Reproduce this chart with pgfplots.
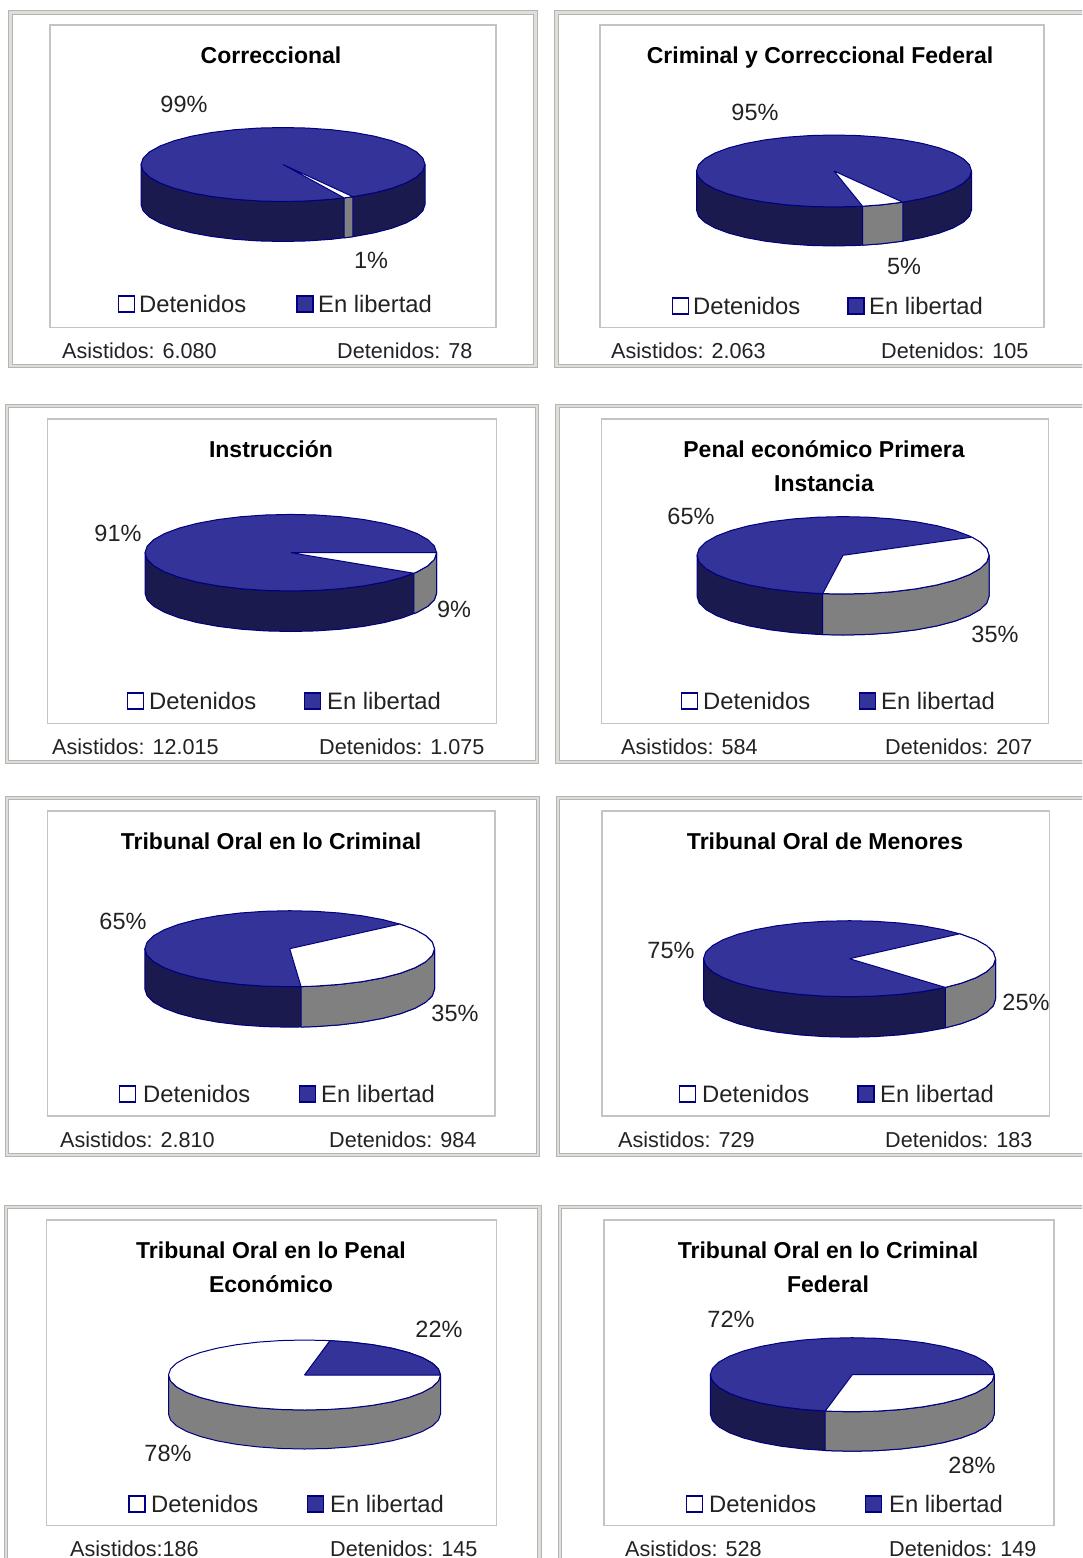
\documentclass[border=0pt]{standalone}
\usepackage{fontspec}
\setmainfont{Liberation Sans}
\usepackage{pgfplots}
\usepackage{pgfplotstable}
\pgfplotsset{compat=1.18}

\definecolor{pietop}{HTML}{333399}
\definecolor{pieside}{HTML}{1A1A4F}
\definecolor{pieline}{HTML}{000080}
\definecolor{piegray}{HTML}{808080}
\definecolor{frameband}{HTML}{DEDEDA}
\definecolor{frameedge}{HTML}{B4B4B0}
\definecolor{innerline}{HTML}{C4C4C4}
\definecolor{labeltext}{HTML}{222222}

\tikzset{txt/.style={inner sep=0pt,text=labeltext,yshift=-8.2pt},
  outerframe/.style={draw=frameedge,double=frameband,double distance=2.5pt,line width=1pt,line cap=rect},
  innerframe/.style={draw=innerline,line width=1.2pt,line cap=rect}}

% whole top rim, angles in degrees: r a
\pgfplotstableread[row sep=\\]{
r a\\ 1 0\\ 1 10\\ 1 20\\ 1 30\\ 1 40\\ 1 50\\ 1 60\\ 1 70\\ 1 80\\ 1 90\\ 1 100\\ 1 110\\ 1 120\\
1 130\\ 1 140\\ 1 150\\ 1 160\\ 1 170\\ 1 180\\ 1 190\\ 1 200\\ 1 210\\ 1 220\\ 1 230\\ 1 240\\
1 250\\ 1 260\\ 1 270\\ 1 280\\ 1 290\\ 1 300\\ 1 310\\ 1 320\\ 1 330\\ 1 340\\ 1 350\\ 1 360\\
}\rimtable

% front wall, z=1 is the lower edge
\pgfplotstableread[row sep=\\]{
a z\\ 0 1\\ 10 1\\ 20 1\\ 30 1\\ 40 1\\ 50 1\\ 60 1\\ 70 1\\ 80 1\\ 90 1\\ 100 1\\ 110 1\\ 120 1\\
130 1\\ 140 1\\ 150 1\\ 160 1\\ 170 1\\ 180 1\\
180 0\\ 170 0\\ 160 0\\ 150 0\\ 140 0\\ 130 0\\ 120 0\\ 110 0\\ 100 0\\ 90 0\\ 80 0\\ 70 0\\ 60 0\\
50 0\\ 40 0\\ 30 0\\ 20 0\\ 10 0\\ 0 0\\ 0 1\\
}\walltable

% pie: cx cy rx ry depth
\newcommand\setpie[5]{\def\cx{#1}\def\cy{#2}\def\rx{#3}\def\ry{#4}\def\dz{#5}}
\newcommand\sector[2]{\addplot[draw=pieline,line width=1pt,line join=round,fill=#1]
  table[row sep=\\,x expr=\cx+\rx*\thisrow{r}*cos(\thisrow{a}),y expr=\cy+\ry*\thisrow{r}*sin(\thisrow{a})] {#2};}
\newcommand\wall[2]{\addplot[draw=pieline,line width=1pt,line join=round,fill=#1]
  table[row sep=\\,x expr=\cx+\rx*cos(\thisrow{a}),y expr=\cy+\ry*sin(\thisrow{a})+\dz*\thisrow{z}] {#2};}

\newcommand\legfont{\fontsize{23.8}{28}\selectfont}
\newcommand\titfont{\fontsize{23}{28}\selectfont\bfseries}
\newcommand\pctfont{\fontsize{23.5}{28}\selectfont}
\newcommand\botfont{\fontsize{21.6}{26}\selectfont}
\newcommand\legendrow[5]{%
  \addplot[only marks,mark=square*,mark size=8pt,mark options={draw=pieline,fill=white,line width=1.2pt}] coordinates {(#1,#5)};
  \addplot[only marks,mark=square*,mark size=8pt,mark options={draw=pieline,fill=pietop,line width=1.2pt}] coordinates {(#2,#5)};
  \node[txt,anchor=base west,font=\legfont] at (axis cs:#3,#5) {Detenidos};
  \node[txt,anchor=base west,font=\legfont] at (axis cs:#4,#5) {En libertad};}
\newcommand\ttl[3]{\node[txt,anchor=base,font=\titfont,text=black] at (axis cs:#1,#2) {#3};}
\newcommand\pct[3]{\node[txt,anchor=base,font=\pctfont] at (axis cs:#1,#2) {#3\%};}
\newcommand\foot[5]{%
  \node[txt,anchor=base west,font=\botfont] at (axis cs:#1,#3) {Asistidos:#4};
  \node[txt,anchor=base west,font=\botfont] at (axis cs:#2,#3) {Detenidos: #5};}

\begin{document}
\begin{tikzpicture}
\path[use as bounding box] (0,0) rectangle (1082pt,1558pt);
\begin{axis}[
    at={(0,0)},anchor=south west,
    scale only axis,
    width=1082pt,height=1558pt,
    xmin=0,xmax=1082,ymin=0,ymax=1558,
    y dir=reverse,
    hide axis,
]
% frames
\addplot[outerframe] coordinates {(10.5,12.5) (535.5,12.5) (535.5,366) (10.5,366) (10.5,12.5)};
\addplot[innerframe] coordinates {(50,25) (496,25) (496,327.5) (50,327.5) (50,25)};
\addplot[outerframe] coordinates {(556.5,12.5) (1095,12.5) (1095,366) (556.5,366) (556.5,12.5)};
\addplot[innerframe] coordinates {(600,25) (1044,25) (1044,327.5) (600,327.5) (600,25)};
\addplot[outerframe] coordinates {(7,406) (537,406) (537,762) (7,762) (7,406)};
\addplot[innerframe] coordinates {(47.5,419) (496.5,419) (496.5,723.5) (47.5,723.5) (47.5,419)};
\addplot[outerframe] coordinates {(557.5,406) (1095,406) (1095,762) (557.5,762) (557.5,406)};
\addplot[innerframe] coordinates {(601.5,419) (1048.5,419) (1048.5,723.5) (601.5,723.5) (601.5,419)};
\addplot[outerframe] coordinates {(7,798) (538,798) (538,1155) (7,1155) (7,798)};
\addplot[innerframe] coordinates {(47.5,811) (495,811) (495,1116) (47.5,1116) (47.5,811)};
\addplot[outerframe] coordinates {(558,798) (1095,798) (1095,1155) (558,1155) (558,798)};
\addplot[innerframe] coordinates {(602,811) (1049.5,811) (1049.5,1116) (602,1116) (602,811)};
\addplot[outerframe] coordinates {(6,1207) (539.5,1207) (539.5,1575) (6,1575) (6,1207)};
\addplot[innerframe] coordinates {(46.5,1220) (496.5,1220) (496.5,1525.5) (46.5,1525.5) (46.5,1220)};
\addplot[outerframe] coordinates {(560,1207) (1095,1207) (1095,1575) (560,1575) (560,1207)};
\addplot[innerframe] coordinates {(604,1220) (1054,1220) (1054,1525.5) (604,1525.5) (604,1220)};

% Correccional 99 / 1
\setpie{283}{164.5}{142}{37}{40}
\wall{pieside}{\walltable}
\wall{piegray}{a z\\ 60.5 1\\ 64.5 1\\ 64.5 0\\ 60.5 0\\ 60.5 1\\}
\sector{pietop}{\rimtable}
\sector{white}{r a\\ 0 0\\ 1 60.5\\ 1 64.5\\ 0 0\\}
\ttl{271}{55}{Correccional}
\pct{184}{104}{99} \pct{371}{260}{1}
\legendrow{126.5}{305}{139}{318}{304}
\foot{62}{337}{350}{ 6.080}{78}

% Criminal y Correccional Federal 95 / 5
\setpie{834}{171}{137.5}{36}{39}
\wall{pieside}{\walltable}
\wall{piegray}{a z\\ 60 1\\ 70 1\\ 78 1\\ 78 0\\ 70 0\\ 60 0\\ 60 1\\}
\sector{pietop}{\rimtable}
\sector{white}{r a\\ 0 0\\ 1 60\\ 1 70\\ 1 78\\ 0 0\\}
\ttl{820}{55}{Criminal y Correccional Federal}
\pct{755}{112}{95} \pct{904}{266}{5}
\legendrow{680.5}{856}{693}{869}{306}
\foot{611}{881}{350}{ 2.063}{105}

% Instruccion 91 / 9
\setpie{290.8}{552.7}{145.8}{38.3}{40.5}
\wall{pieside}{\walltable}
\wall{piegray}{a z\\ 0 1\\ 10 1\\ 20 1\\ 30 1\\ 32.4 1\\ 32.4 0\\ 30 0\\ 20 0\\ 10 0\\ 0 0\\ 0 1\\}
\sector{pietop}{\rimtable}
\sector{white}{r a\\ 0 0\\ 1 0\\ 1 10\\ 1 20\\ 1 30\\ 1 32.4\\ 0 0\\}
\ttl{271}{449}{Instrucción}
\pct{118}{533}{91} \pct{454}{609}{9}
\legendrow{135.5}{312.5}{149}{327}{701}
\foot{52}{319}{746}{ 12.015}{1.075}

% Penal economico Primera Instancia 65 / 35
\setpie{843}{555.3}{146}{38.7}{41}
\wall{pieside}{\walltable}
\wall{piegray}{a z\\ 0 1\\ 10 1\\ 20 1\\ 30 1\\ 40 1\\ 50 1\\ 60 1\\ 70 1\\ 80 1\\ 90 1\\ 98 1\\ 98 0\\ 90 0\\ 80 0\\ 70 0\\ 60 0\\ 50 0\\ 40 0\\ 30 0\\ 20 0\\ 10 0\\ 0 0\\ 0 1\\}
\sector{pietop}{\rimtable}
\sector{white}{r a\\ 0 0\\ 1 -28\\ 1 -20\\ 1 -10\\ 1 0\\ 1 10\\ 1 20\\ 1 30\\ 1 40\\ 1 50\\ 1 60\\ 1 70\\ 1 80\\ 1 90\\ 1 98\\ 0 0\\}
\ttl{824}{449}{Penal económico Primera}
\ttl{824}{483}{Instancia}
\pct{691}{516}{65} \pct{995}{634}{35}
\legendrow{689.5}{867.5}{703}{881}{701}
\foot{621}{885}{746}{ 584}{207}

% Tribunal Oral en lo Criminal 65 / 35
\setpie{289.7}{948.7}{144.8}{38}{40.5}
\wall{pieside}{\walltable}
\wall{piegray}{a z\\ 0 1\\ 10 1\\ 20 1\\ 30 1\\ 40 1\\ 50 1\\ 60 1\\ 70 1\\ 80 1\\ 85.5 1\\ 85.5 0\\ 80 0\\ 70 0\\ 60 0\\ 50 0\\ 40 0\\ 30 0\\ 20 0\\ 10 0\\ 0 0\\ 0 1\\}
\sector{pietop}{\rimtable}
\sector{white}{r a\\ 0 0\\ 1 -40.5\\ 1 -30\\ 1 -20\\ 1 -10\\ 1 0\\ 1 10\\ 1 20\\ 1 30\\ 1 40\\ 1 50\\ 1 60\\ 1 70\\ 1 80\\ 1 85.5\\ 0 0\\}
\ttl{271}{841}{Tribunal Oral en lo Criminal}
\pct{123}{921}{65} \pct{455}{1013}{35}
\legendrow{127.5}{307.5}{143}{321}{1094}
\foot{60}{329}{1139}{ 2.810}{984}

% Tribunal Oral de Menores 75 / 25
\setpie{849.5}{958.7}{146}{38}{40.5}
\wall{pieside}{\walltable}
\wall{piegray}{a z\\ 0 1\\ 10 1\\ 20 1\\ 30 1\\ 40 1\\ 49 1\\ 49 0\\ 40 0\\ 30 0\\ 20 0\\ 10 0\\ 0 0\\ 0 1\\}
\sector{pietop}{\rimtable}
\sector{white}{r a\\ 0 0\\ 1 -41\\ 1 -30\\ 1 -20\\ 1 -10\\ 1 0\\ 1 10\\ 1 20\\ 1 30\\ 1 40\\ 1 49\\ 0 0\\}
\ttl{825}{841}{Tribunal Oral de Menores}
\pct{671}{950}{75} \pct{1026}{1002}{25}
\legendrow{687.5}{866}{702}{880}{1094}
\foot{618}{885}{1139}{ 729}{183}

% Tribunal Oral en lo Penal Economico 78 / 22
\setpie{304.5}{1375}{136}{35}{39}
\wall{piegray}{\walltable}
\sector{white}{\rimtable}
\sector{pietop}{r a\\ 0 0\\ 1 -79.2\\ 1 -70\\ 1 -60\\ 1 -50\\ 1 -40\\ 1 -30\\ 1 -20\\ 1 -10\\ 1 0\\ 0 0\\}
\ttl{271}{1250}{Tribunal Oral en lo Penal}
\ttl{271}{1284}{Económico}
\pct{439}{1329}{22} \pct{168}{1453}{78}
\legendrow{137}{315.5}{151}{330}{1504}
\foot{70}{330}{1548}{186}{145}

% Tribunal Oral en lo Criminal Federal 72 / 28
\setpie{852.3}{1374.7}{142}{37}{39.5}
\wall{pieside}{\walltable}
\wall{piegray}{a z\\ 0 1\\ 10 1\\ 20 1\\ 30 1\\ 40 1\\ 50 1\\ 60 1\\ 70 1\\ 80 1\\ 90 1\\ 100 1\\ 101 1\\ 101 0\\ 100 0\\ 90 0\\ 80 0\\ 70 0\\ 60 0\\ 50 0\\ 40 0\\ 30 0\\ 20 0\\ 10 0\\ 0 0\\ 0 1\\}
\sector{pietop}{\rimtable}
\sector{white}{r a\\ 0 0\\ 1 0\\ 1 10\\ 1 20\\ 1 30\\ 1 40\\ 1 50\\ 1 60\\ 1 70\\ 1 80\\ 1 90\\ 1 100\\ 1 101\\ 0 0\\}
\ttl{828}{1250}{Tribunal Oral en lo Criminal}
\ttl{828}{1284}{Federal}
\pct{731}{1319}{72} \pct{972}{1465}{28}
\legendrow{694.5}{873.5}{709}{889}{1504}
\foot{625}{889}{1548}{ 528}{149}
\end{axis}
\end{tikzpicture}
\end{document}
